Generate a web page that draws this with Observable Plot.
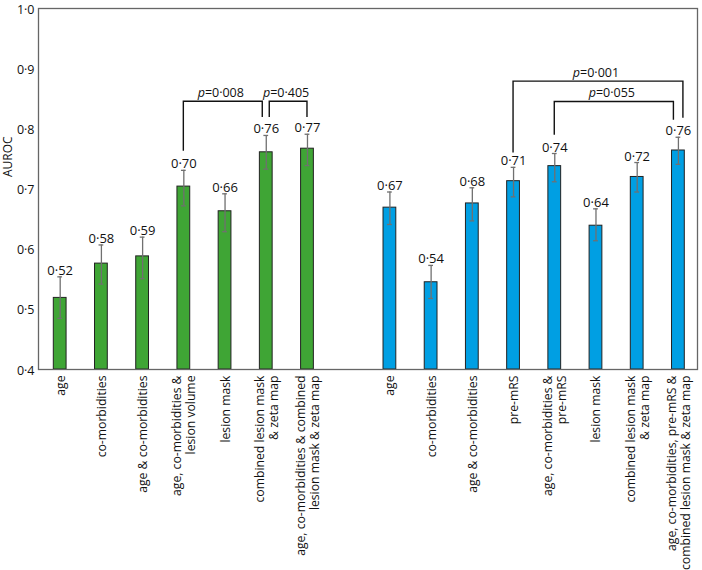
<!DOCTYPE html>
<html>
<head>
<meta charset="utf-8">
<script src="https://cdn.jsdelivr.net/npm/d3@7"></script>
<script src="https://cdn.jsdelivr.net/npm/@observablehq/plot@0.6"></script>
<style>
  html, body { margin: 0; padding: 0; background: #fff; }
  svg { display: block; }
  #chart svg text { font-family: 'Open Sans', 'DejaVu Sans', sans-serif; }
</style>
</head>
<body>
<div id="chart"></div>
<script>
// ---- data ----
const namesA = [
  "age",
  "co-morbidities",
  "age & co-morbidities",
  "age, co-morbidities &\nlesion volume",
  "lesion mask",
  "combined lesion mask\n& zeta map",
  "age, co-morbidities & combined\nlesion mask & zeta map"
];
const aurocA = [0.519, 0.576, 0.588, 0.704, 0.663, 0.761, 0.767];
const lowA   = [0.485, 0.542, 0.551, 0.672, 0.629, 0.733, 0.739];
const highA  = [0.554, 0.607, 0.620, 0.731, 0.692, 0.789, 0.791];
const textA  = ["0·52", "0·58", "0·59", "0·70", "0·66", "0·76", "0·77"];

const namesB = [
  "age",
  "co-morbidities",
  "age & co-morbidities",
  "pre-mRS",
  "age, co-morbidities &\npre-mRS",
  "lesion mask",
  "combined lesion mask\n& zeta map",
  "age, co-morbidities, pre-mRS &\ncombined lesion mask & zeta map"
];
const aurocB = [0.669, 0.545, 0.676, 0.713, 0.738, 0.639, 0.720, 0.764];
const lowB   = [0.641, 0.518, 0.647, 0.687, 0.712, 0.614, 0.695, 0.741];
const highB  = [0.695, 0.573, 0.702, 0.736, 0.759, 0.667, 0.744, 0.786];
const textB  = ["0·67", "0·54", "0·68", "0·71", "0·74", "0·64", "0·72", "0·76"];

const yTicks = [0.4, 0.5, 0.6, 0.7, 0.8, 0.9, 1.0];

// significance brackets
const bracketFrom  = ["A3", "A5", "B3", "B4"];
const bracketTo    = ["A5", "A6", "B7", "B7"];
const bracketTop   = [0.845, 0.845, 0.8785, 0.8445];
const bracketEndL  = [0.7626, 0.8187, 0.7598, 0.7895];
const bracketEndR  = [0.8187, 0.8187, 0.8175, 0.8142];
const bracketP     = ["0·008", "0·405", "0·001", "0·055"];

// ---- build table ----
const rows = [];
namesA.forEach((n, i) => rows.push({key: "A" + i, name: n, group: "A", value: aurocA[i], lo: lowA[i], hi: highA[i], label: textA[i]}));
namesB.forEach((n, i) => rows.push({key: "B" + i, name: n, group: "B", value: aurocB[i], lo: lowB[i], hi: highB[i], label: textB[i]}));
const domain = [...namesA.map((_, i) => "A" + i), "gap", ...namesB.map((_, i) => "B" + i)];
const nameOf = new Map(rows.map(r => [r.key, r.name]));

const brackets = bracketFrom.map((f, i) => ({from: f, to: bracketTo[i], top: bracketTop[i], endL: bracketEndL[i], endR: bracketEndR[i], p: bracketP[i]}));

const font = "'Open Sans', 'DejaVu Sans', sans-serif";

function bracketMark(index, scales) {
  const x = scales.x, y = scales.y;
  const half = x.bandwidth ? x.bandwidth() / 2 : 0;
  const cx = k => x(k) + half;
  const nudgeL = [0, 3.5, 0, 0];
  const nudgeR = [-3.5, 0, 5, -4.5];
  const g = d3.create("svg:g");
  brackets.forEach((b, i) => {
    const x1 = cx(b.from) + nudgeL[i];
    const x2 = cx(b.to) + nudgeR[i];
    g.append("path")
      .attr("d", `M${x1},${y(b.endL)}V${y(b.top)}H${x2}V${y(b.endR)}`)
      .attr("fill", "none")
      .attr("stroke", "#111")
      .attr("stroke-width", 1.4);
    const t = g.append("text")
      .attr("x", (x1 + x2) / 2 - 2)
      .attr("y", y(b.top) - 4.5)
      .attr("text-anchor", "middle")
      .attr("font-size", 12.5)
      .attr("fill", "#111");
    t.append("tspan").attr("font-style", "italic").text("p");
    t.append("tspan").text("=" + b.p);
  });
  return g.node();
}

const plot = Plot.plot({
  width: 702,
  height: 570,
  marginLeft: 38,
  marginRight: 5,
  marginTop: 8,
  marginBottom: 201,
  style: {fontFamily: font, background: "#fff", color: "#111"},
  x: {domain, type: "band", range: [53.3, 684.3], paddingInner: 0.69, paddingOuter: 0, round: false, label: null},
  y: {domain: [0.4, 1.0], label: null},
  color: {domain: ["A", "B"], range: ["#3FA535", "#009FE3"]},
  marks: [
    Plot.barY(rows, {x: "key", y1: 0.4, y2: "value", fill: "group", stroke: "#222", strokeWidth: 1}),
    Plot.ruleX(rows, {x: "key", y1: "lo", y2: "hi", stroke: "#707070", strokeWidth: 1.3}),
    Plot.tickY(rows, {x: "key", y: "lo", stroke: "#707070", strokeWidth: 1.3, insetLeft: 4, insetRight: 4}),
    Plot.tickY(rows, {x: "key", y: "hi", stroke: "#707070", strokeWidth: 1.3, insetLeft: 4, insetRight: 4}),
    Plot.text(rows, {x: "key", y: "hi", text: "label", lineAnchor: "bottom", dy: -2, fontSize: 13, fill: "#111"}),
    bracketMark,
    Plot.frame({stroke: "#666", strokeWidth: 1.3}),
    Plot.axisY({ticks: yTicks, tickFormat: d => d3.format(".1f")(d).replace(".", "·"), tickSize: 0, tickPadding: 4, dy: 1, fontSize: 12.5, label: null}),
    Plot.axisX({tickSize: 0, tickPadding: 6, rotate: -90, textAnchor: "end", lineAnchor: "middle", lineHeight: 1.15, fontSize: 12.2, tickFormat: k => nameOf.get(k) ?? "", label: null}),
    Plot.text(["AUROC"], {text: d => d, frameAnchor: "left", rotate: -90, dx: -30, dy: -12, fontSize: 12, fill: "#111"})
  ]
});
document.getElementById("chart").appendChild(plot);
</script>
</body>
</html>
